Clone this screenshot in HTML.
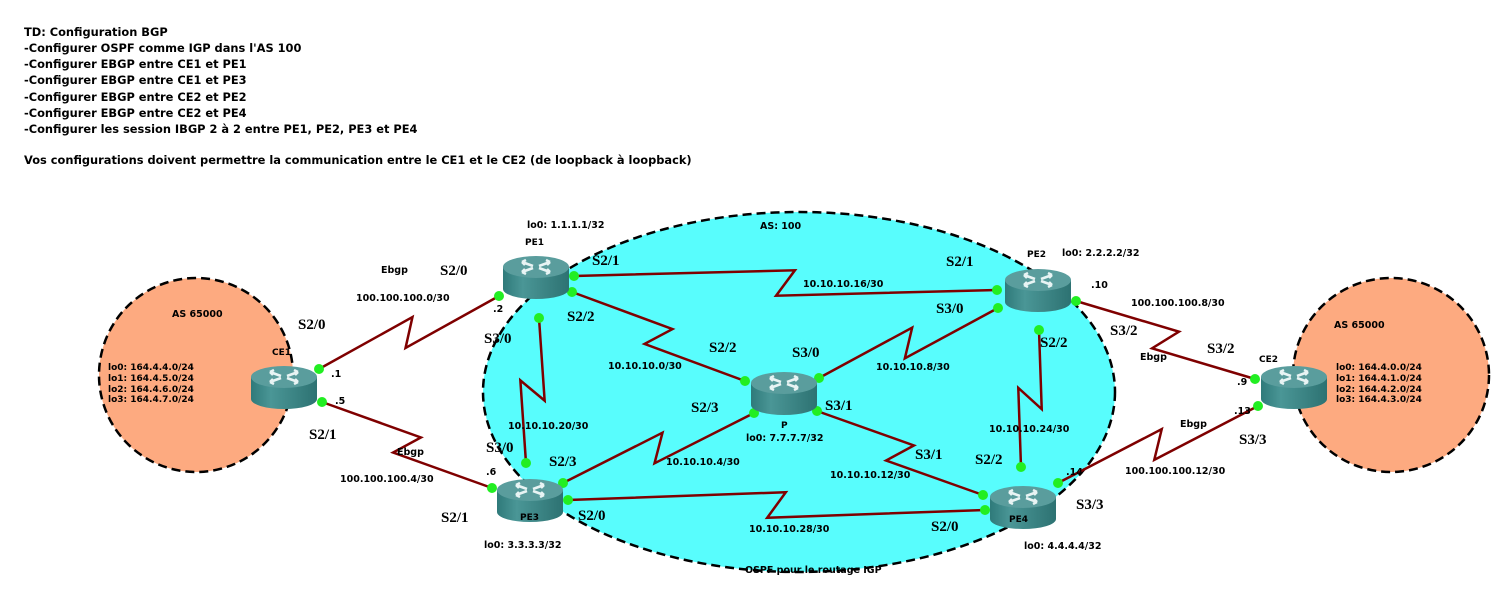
<!DOCTYPE html>
<html><head><meta charset="utf-8">
<style>
html,body{margin:0;padding:0;background:#fff;width:1509px;height:599px;overflow:hidden}
svg{display:block}
.t{font-family:"DejaVu Sans","Liberation Sans",sans-serif;font-weight:bold;font-size:11.4px;fill:#000}
.s{font-family:"Liberation Serif",serif;font-weight:bold;font-size:15px;fill:#000}
.i{font-family:"DejaVu Sans","Liberation Sans",sans-serif;font-size:9.5px;fill:#000;font-weight:bold}
.r{font-family:"DejaVu Sans","Liberation Sans",sans-serif;font-size:9px;fill:#000;font-weight:bold}
</style></head><body>
<svg id="sv" width="1509" height="599" xmlns="http://www.w3.org/2000/svg">
<defs>
<linearGradient id="bd" x1="0" x2="1" y1="0" y2="0">
<stop offset="0" stop-color="#2f7a7a"/><stop offset="0.3" stop-color="#4a9696"/><stop offset="1" stop-color="#2d7272"/></linearGradient>
<g id="rt">
<path d="M-33,0 L-33,22 A33,10 0 0 0 33,22 L33,0 Z" fill="url(#bd)"/>
<ellipse cx="0" cy="0" rx="33" ry="11" fill="#5a9d9d"/>
<g stroke="#e8f4f4" stroke-width="2.6" fill="none">
<path d="M-14,-5 L-3,-1 M-14,-5 l4,-2 M-14,-5 l3,3"/>
<path d="M14,5 L3,1 M14,5 l-4,2 M14,5 l-3,-3"/>
<path d="M14,-5 L3,-1 M14,-5 l-4,-2 M14,-5 l-3,3"/>
<path d="M-14,5 L-3,1 M-14,5 l4,2 M-14,5 l3,-3"/>
</g>
</g>
</defs>
<ellipse cx="196" cy="375" rx="97" ry="97" fill="#fdaa80" stroke="#000" stroke-width="2.5" stroke-dasharray="9,5"/>
<ellipse cx="1391" cy="375" rx="98" ry="97" fill="#fdaa80" stroke="#000" stroke-width="2.5" stroke-dasharray="9,5"/>
<ellipse cx="799" cy="392" rx="316" ry="180" fill="#58fdfd" stroke="#000" stroke-width="2.5" stroke-dasharray="9,5"/>
<g id="links" stroke="#7f0000" stroke-width="2.5" fill="none"></g>
<g id="dots" fill="#22ee22"></g>
<use href="#rt" x="284" y="377"/>
<use href="#rt" x="536" y="267"/>
<use href="#rt" x="1038" y="280"/>
<use href="#rt" x="784" y="383"/>
<use href="#rt" x="530" y="490"/>
<use href="#rt" x="1023" y="497"/>
<use href="#rt" x="1294" y="377"/>
<g class="t">
<text x="24" y="36">TD: Configuration BGP</text>
<text x="24" y="52">-Configurer OSPF comme IGP dans l'AS 100</text>
<text x="24" y="68">-Configurer EBGP entre CE1 et PE1</text>
<text x="24" y="84">-Configurer EBGP entre CE1 et PE3</text>
<text x="24" y="101">-Configurer EBGP entre CE2 et PE2</text>
<text x="24" y="117">-Configurer EBGP entre CE2 et PE4</text>
<text x="24" y="133">-Configurer les session IBGP 2 à 2 entre PE1, PE2, PE3 et PE4</text>
<text x="24" y="164">Vos configurations doivent permettre la communication entre le CE1 et le CE2 (de loopback à loopback)</text>
</g>
<g class="s">
<text x="592" y="265">S2/1</text><text x="440" y="275">S2/0</text><text x="298" y="329">S2/0</text>
<text x="309" y="439">S2/1</text><text x="441" y="522">S2/1</text><text x="484" y="343">S3/0</text>
<text x="567" y="321">S2/2</text><text x="946" y="266">S2/1</text><text x="936" y="313">S3/0</text>
<text x="1110" y="335">S3/2</text><text x="1207" y="353">S3/2</text><text x="1040" y="347">S2/2</text>
<text x="1239" y="444">S3/3</text><text x="1076" y="509">S3/3</text><text x="975" y="464">S2/2</text>
<text x="915" y="459">S3/1</text><text x="931" y="531">S2/0</text><text x="578" y="520">S2/0</text>
<text x="549" y="466">S2/3</text><text x="486" y="452">S3/0</text><text x="691" y="412">S2/3</text>
<text x="825" y="410">S3/1</text><text x="709" y="352">S2/2</text><text x="792" y="357">S3/0</text>
</g>
<g class="i">
<text x="527" y="228">lo0: 1.1.1.1/32</text><text x="760" y="229">AS: 100</text>
<text x="381" y="273">Ebgp</text><text x="356" y="301">100.100.100.0/30</text><text x="493" y="312">.2</text>
<text x="172" y="317">AS 65000</text><text x="331" y="377">.1</text><text x="335" y="404">.5</text>
<text x="397" y="455">Ebgp</text><text x="340" y="482">100.100.100.4/30</text><text x="486" y="475">.6</text>
<text x="484" y="548">lo0: 3.3.3.3/32</text><text x="803" y="287">10.10.10.16/30</text>
<text x="1062" y="256">lo0: 2.2.2.2/32</text><text x="1091" y="288">.10</text><text x="1131" y="306">100.100.100.8/30</text>
<text x="1140" y="360">Ebgp</text><text x="1334" y="328">AS 65000</text><text x="1237" y="385">.9</text>
<text x="1234" y="414">.13</text><text x="1180" y="427">Ebgp</text><text x="1125" y="474">100.100.100.12/30</text>
<text x="1066" y="475">.14</text><text x="989" y="432">10.10.10.24/30</text><text x="830" y="478">10.10.10.12/30</text>
<text x="1024" y="549">lo0: 4.4.4.4/32</text><text x="745" y="573">OSPF pour le routage IGP</text>
<text x="749" y="532">10.10.10.28/30</text><text x="508" y="429">10.10.10.20/30</text><text x="666" y="465">10.10.10.4/30</text>
<text x="746" y="441">lo0: 7.7.7.7/32</text><text x="608" y="369">10.10.10.0/30</text><text x="876" y="370">10.10.10.8/30</text>
</g>
<g class="r">
<text x="525" y="245">PE1</text><text x="272" y="355">CE1</text><text x="1027" y="257">PE2</text>
<text x="1259" y="362">CE2</text><text x="781" y="428">P</text><text x="520" y="520">PE3</text><text x="1009" y="522">PE4</text>
<text x="108" y="370">lo0: 164.4.4.0/24</text><text x="108" y="381">lo1: 164.4.5.0/24</text>
<text x="108" y="392">lo2: 164.4.6.0/24</text><text x="108" y="402">lo3: 164.4.7.0/24</text>
<text x="1336" y="370">lo0: 164.4.0.0/24</text><text x="1336" y="381">lo1: 164.4.1.0/24</text>
<text x="1336" y="392">lo2: 164.4.2.0/24</text><text x="1336" y="402">lo3: 164.4.3.0/24</text>
</g>
</svg>
<script>
var L=[[319,369,499,296],[322,402,492,488],[574,276,997,290],[572,292,745,381],[539,318,526,463],
[998,308,819,378],[1076,301,1255,379],[1039,330,1021,467],[754,413,563,483],[817,411,983,495],
[568,500,985,510],[1058,483,1258,406]];
var lk=document.getElementById('links'),dt=document.getElementById('dots'),ns='http://www.w3.org/2000/svg';
L.forEach(function(a){var dx=a[2]-a[0],dy=a[3]-a[1],l=Math.hypot(dx,dy),ux=dx/l,uy=dy/l,nx=-uy,ny=ux,
mx=(a[0]+a[2])/2,my=(a[1]+a[3])/2,k=9,h=13;
var p=document.createElementNS(ns,'polyline');
p.setAttribute('points',[a[0],a[1],mx+ux*k-nx*h,my+uy*k-ny*h,mx-ux*k+nx*h,my-uy*k+ny*h,a[2],a[3]].join(' '));
lk.appendChild(p);
[[a[0],a[1]],[a[2],a[3]]].forEach(function(q){var c=document.createElementNS(ns,'circle');c.setAttribute('cx',q[0]);c.setAttribute('cy',q[1]);c.setAttribute('r',5);dt.appendChild(c);});});
</script>
</body></html>
